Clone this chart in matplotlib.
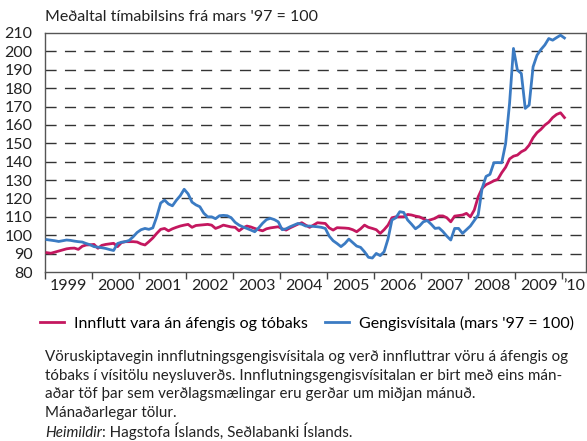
import matplotlib
matplotlib.use("Agg")
import matplotlib.pyplot as plt
import numpy as np

plt.rcParams['font.family'] = ['Lato', 'DejaVu Sans']

# monthly values, Jan 1999 - Jan 2010
innflutt = [
    90.5, 90.2, 90.8, 91.4, 92.0, 92.6, 92.9, 93.0, 92.3, 94.0, 94.7, 94.8,
    95.0, 92.9, 94.5, 95.0, 95.3, 95.6, 93.8, 96.0, 96.5, 96.5, 96.5, 96.3,
    95.3, 94.7, 96.5, 98.5, 101.0, 103.2, 103.7, 102.4, 103.5, 104.3, 105.0, 105.5,
    105.9, 104.3, 105.3, 105.5, 105.7, 105.9, 105.5, 103.7, 104.5, 105.5, 105.0, 104.5,
    104.3, 102.4, 104.0, 105.0, 104.5, 103.7, 103.0, 102.4, 103.5, 104.0, 104.3, 104.6,
    103.5, 102.8, 104.0, 105.0, 106.0, 106.8, 105.5, 104.3, 105.5, 106.8, 106.6, 106.4,
    104.0, 102.8, 104.1, 104.0, 103.9, 103.7, 103.0, 101.9, 103.5, 105.5, 104.3, 103.7,
    103.0, 101.0, 103.0, 105.5, 109.5, 110.0, 110.0, 110.0, 111.3, 111.0, 110.4, 110.0,
    109.0, 107.9, 108.5, 109.2, 110.5, 110.5, 109.5, 107.3, 110.4, 110.7, 111.0, 111.9,
    110.0, 113.7, 120.9, 125.5, 127.5, 128.5, 129.6, 130.4, 134.0, 137.0, 141.5, 143.0,
    143.6, 145.4, 146.5, 149.0, 153.0, 155.8, 157.6, 159.9, 161.5, 164.0, 165.7, 166.6,
    164.0,
]
gengi = [
    97.6, 97.3, 97.0, 96.6, 97.0, 97.4, 97.2, 96.8, 96.5, 96.3, 95.5, 94.8,
    93.8, 93.5, 93.2, 92.8, 92.2, 91.7, 95.5, 96.2, 96.5, 97.2, 99.2, 101.5,
    103.0, 103.7, 103.2, 104.0, 110.0, 117.5, 119.1, 117.0, 116.0, 119.0, 121.5, 125.0,
    122.5, 118.0, 116.5, 115.5, 112.0, 110.0, 110.0, 109.0, 110.6, 110.8, 110.6, 109.5,
    107.0, 105.5, 104.5, 103.7, 102.8, 101.9, 104.0, 106.5, 108.5, 109.2, 108.5, 107.3,
    103.0, 103.5, 104.6, 105.5, 106.4, 106.0, 105.0, 105.0, 104.8, 104.6, 104.3, 103.7,
    99.5, 97.0, 95.5, 93.8, 95.5, 97.9, 96.0, 94.1, 93.4, 91.0, 88.0, 87.6,
    90.1, 88.9, 91.0, 98.0, 108.3, 109.5, 112.8, 112.4, 108.3, 106.0, 103.5, 105.0,
    107.3, 108.0, 106.0, 103.7, 104.0, 102.0, 99.5, 97.4, 103.7, 103.7, 101.0, 103.0,
    105.0, 108.0, 111.0, 125.5, 132.0, 133.1, 139.4, 139.5, 139.4, 149.9, 171.7, 201.6,
    189.8, 188.0, 169.0, 170.8, 191.6, 197.9, 201.0, 203.5, 207.0, 206.1, 207.5, 208.8,
    207.3,
]
years = list(range(1999, 2011))
year_labels = [str(y) for y in range(1999, 2010)] + ['\u201910']

months = np.arange(len(gengi))
x = 1999 + (months + 0.5) / 12

red = '#c4175f'
blue = '#3b7bc3'
txt = '#222222'

fig = plt.figure(figsize=(5.87, 4.41), dpi=100)
ax = fig.add_axes([45 / 587, 1 - 272 / 441, 541 / 587, 239 / 441])

for v in range(90, 210, 10):
    ax.axhline(v, color='#333333', lw=1.0, dashes=(8, 6), zorder=1)

ax.plot(x, innflutt, color=red, lw=2.0, zorder=3, label='Innflutt vara án áfengis og tóbaks')
ax.plot(x, gengi, color=blue, lw=2.0, zorder=3, label="Gengisvísitala (mars '97 = 100)")

ax.set_xlim(1999, 2010.5)
ax.set_ylim(80, 210)
ax.set_yticks(range(80, 211, 10))
ax.tick_params(axis='y', length=0, pad=9, labelsize=11.5, colors=txt)
ax.set_xticks(years)
ax.set_xticklabels([])
ax.tick_params(axis='x', length=5, width=1, color='#444444', direction='out')
ax.set_xticks([y + 0.5 for y in range(1999, 2010)] + [2010.25], minor=True)
ax.set_xticklabels(year_labels, minor=True, fontsize=11.5, color=txt)
ax.tick_params(axis='x', which='minor', length=0, pad=5)
for s in ax.spines.values():
    s.set_color('#555555')
    s.set_linewidth(1.0)

fig.text(45 / 587, 1 - 17 / 441, "Meðaltal tímabilsins frá mars '97 = 100",
         fontsize=11.5, va='center', ha='left', color=txt)

fig.legend(loc='center left', bbox_to_anchor=(40 / 587, 1 - 323 / 441), ncol=2,
           frameon=False, fontsize=11.5, handlelength=1.5, handletextpad=0.6,
           columnspacing=1.1, borderaxespad=0, borderpad=0)

para = [
    'Vöruskiptavegin innflutningsgengisvísitala og verð innfluttrar vöru á áfengis og',
    'tóbaks í vísitölu neysluverðs. Innflutningsgengisvísitalan er birt með eins mán-',
    'aðar töf þar sem verðlagsmælingar eru gerðar um miðjan mánuð.',
    'Mánaðarlegar tölur.',
]
for i, line in enumerate(para):
    fig.text(45 / 587, 1 - (357 + i * 18.6) / 441, line, fontsize=10.9,
             va='center', ha='left', color=txt)

t1 = fig.text(45 / 587, 1 - 433 / 441, 'Heimildir', fontsize=10.9, style='italic',
              va='center', ha='left', color=txt)
ax.annotate(': Hagstofa Íslands, Seðlabanki Íslands.', xy=(1, 0), xycoords=t1,
            fontsize=10.9, color=txt, ha='left', va='bottom',
            annotation_clip=False)

fig.savefig('out.png', dpi=100)
